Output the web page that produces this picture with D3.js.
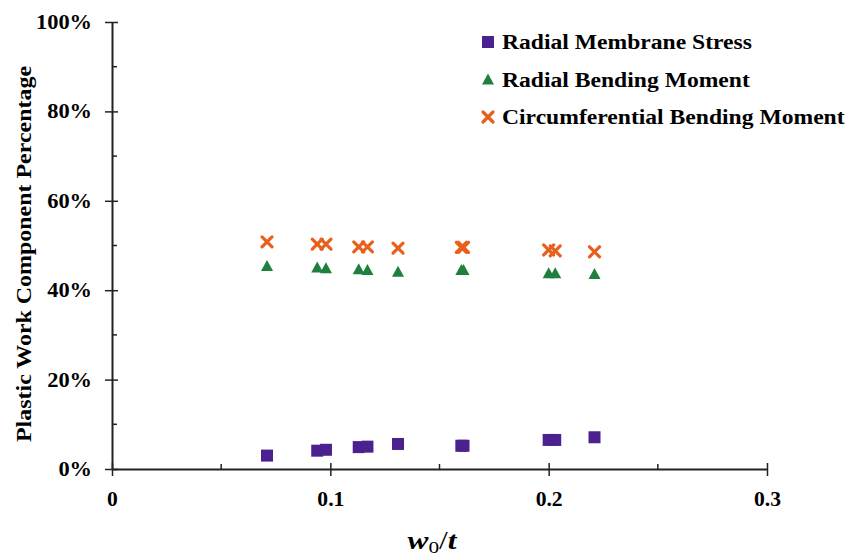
<!DOCTYPE html>
<html><head><meta charset="utf-8">
<script src="https://cdn.jsdelivr.net/npm/d3@7"></script>
<style>body{margin:0;background:#fff}svg{display:block}text{font-family:"Liberation Serif","Times New Roman",serif;font-weight:bold;fill:#000}</style>
</head><body><svg id="c" width="852" height="557"></svg>
<script>
const xVals = [0.071, 0.094, 0.098, 0.113, 0.117, 0.131, 0.160, 0.161, 0.200, 0.203, 0.221];
const membrane = [0.030, 0.041, 0.043, 0.049, 0.050, 0.056, 0.052, 0.052, 0.065, 0.065, 0.071];
const radialBending = [0.454, 0.451, 0.449, 0.447, 0.445, 0.441, 0.445, 0.445, 0.438, 0.438, 0.436];
const circBending = [0.508, 0.503, 0.503, 0.497, 0.497, 0.494, 0.496, 0.496, 0.490, 0.488, 0.486];
const seriesNames = ["Radial Membrane Stress", "Radial Bending Moment", "Circumferential Bending Moment"];
const colors = ["#4b2190", "#1f7f3f", "#e8601c"];
const xTicks = [0, 0.1, 0.2, 0.3];
const yTicks = [0, 0.2, 0.4, 0.6, 0.8, 1.0];

const svg = d3.select("#c");
const x = d3.scaleLinear().domain([0, 0.3]).range([112, 767]);
const y = d3.scaleLinear().domain([0, 1]).range([469, 22]);
const ax = "#222";

function stretch(sel, f) {
  sel.each(function () {
    const L = this.getComputedTextLength();
    d3.select(this).attr("textLength", L * f).attr("lengthAdjust", "spacingAndGlyphs");
  });
}

// axes
const gx = svg.append("g").attr("transform", `translate(0,${y(0)})`);
gx.call(d3.axisBottom(x).tickValues(xTicks).tickSize(0).tickPadding(0).tickFormat(d => d === 0 ? "0" : d3.format(".1f")(d)));
gx.select(".domain").attr("stroke", ax).attr("stroke-width", 2);
gx.selectAll(".tick text").attr("font-size", 20).attr("dy", null).attr("y", 37);
stretch(gx.selectAll(".tick text"), 1.08);
gx.selectAll(".tick").append("line").attr("y1", -6).attr("y2", 7).attr("stroke", ax).attr("stroke-width", 1.5);
gx.selectAll(".minor").data([0.05, 0.15, 0.25]).enter().append("line")
  .attr("x1", d => x(d)).attr("x2", d => x(d)).attr("y1", -5).attr("y2", 0).attr("stroke", ax).attr("stroke-width", 1.5);

const gy = svg.append("g").attr("transform", `translate(${x(0)},0)`);
gy.call(d3.axisLeft(y).tickValues(yTicks).tickSize(0).tickPadding(20).tickFormat(d3.format(".0%")));
gy.select(".domain").attr("stroke", ax).attr("stroke-width", 2);
gy.selectAll(".tick text").attr("font-size", 20);
stretch(gy.selectAll(".tick text"), 1.12);
gy.selectAll(".tick").append("line").attr("x1", -7).attr("x2", 6).attr("stroke", ax).attr("stroke-width", 1.5);
gy.selectAll(".minor").data([0.1, 0.3, 0.5, 0.7, 0.9]).enter().append("line")
  .attr("y1", d => y(d)).attr("y2", d => y(d)).attr("x1", 0).attr("x2", 5).attr("stroke", ax).attr("stroke-width", 1.5);

// titles
const yt = svg.append("text").attr("transform", "translate(31,254) rotate(-90)").attr("text-anchor", "middle")
  .attr("font-size", 20).text("Plastic Work Component Percentage");
yt.attr("textLength", 376).attr("lengthAdjust", "spacingAndGlyphs");

const xl = svg.append("text").attr("x", 432).attr("y", 549).attr("text-anchor", "middle").attr("font-size", 25);
xl.append("tspan").attr("font-style", "italic").text("w");
xl.append("tspan").attr("font-size", 17).attr("dy", 4).attr("font-weight", "normal").text("0");
xl.append("tspan").attr("dy", -4).attr("font-weight", "normal").text("/");
xl.append("tspan").attr("font-style", "italic").text("t");
xl.attr("textLength", 49).attr("lengthAdjust", "spacingAndGlyphs");

// markers
function drawMarker(g, type, cx, cy, color) {
  if (type === 0) {
    g.append("rect").attr("x", cx - 6).attr("y", cy - 6).attr("width", 12).attr("height", 12).attr("fill", color);
  } else if (type === 1) {
    g.append("path").attr("d", `M${cx},${cy - 6}L${cx + 6},${cy + 5}L${cx - 6},${cy + 5}Z`).attr("fill", color);
  } else {
    g.append("path").attr("d", `M${cx - 5},${cy - 5}L${cx + 5},${cy + 5}M${cx + 5},${cy - 5}L${cx - 5},${cy + 5}`)
      .attr("stroke", color).attr("stroke-width", 3.2).attr("stroke-linecap", "round");
  }
}
const series = [membrane, radialBending, circBending];
const pts = svg.append("g");
series.forEach((vals, si) => {
  vals.forEach((v, i) => drawMarker(pts, si, x(xVals[i]), y(v), colors[si]));
});

// legend
const leg = svg.append("g");
seriesNames.forEach((name, i) => {
  const cy = 42 + i * 37.5;
  drawMarker(leg, i, 488, cy, colors[i]);
  const t = leg.append("text").attr("x", 502).attr("y", cy + 7).attr("font-size", 20).text(name);
  stretch(t, 1.18);
});
</script></body></html>
